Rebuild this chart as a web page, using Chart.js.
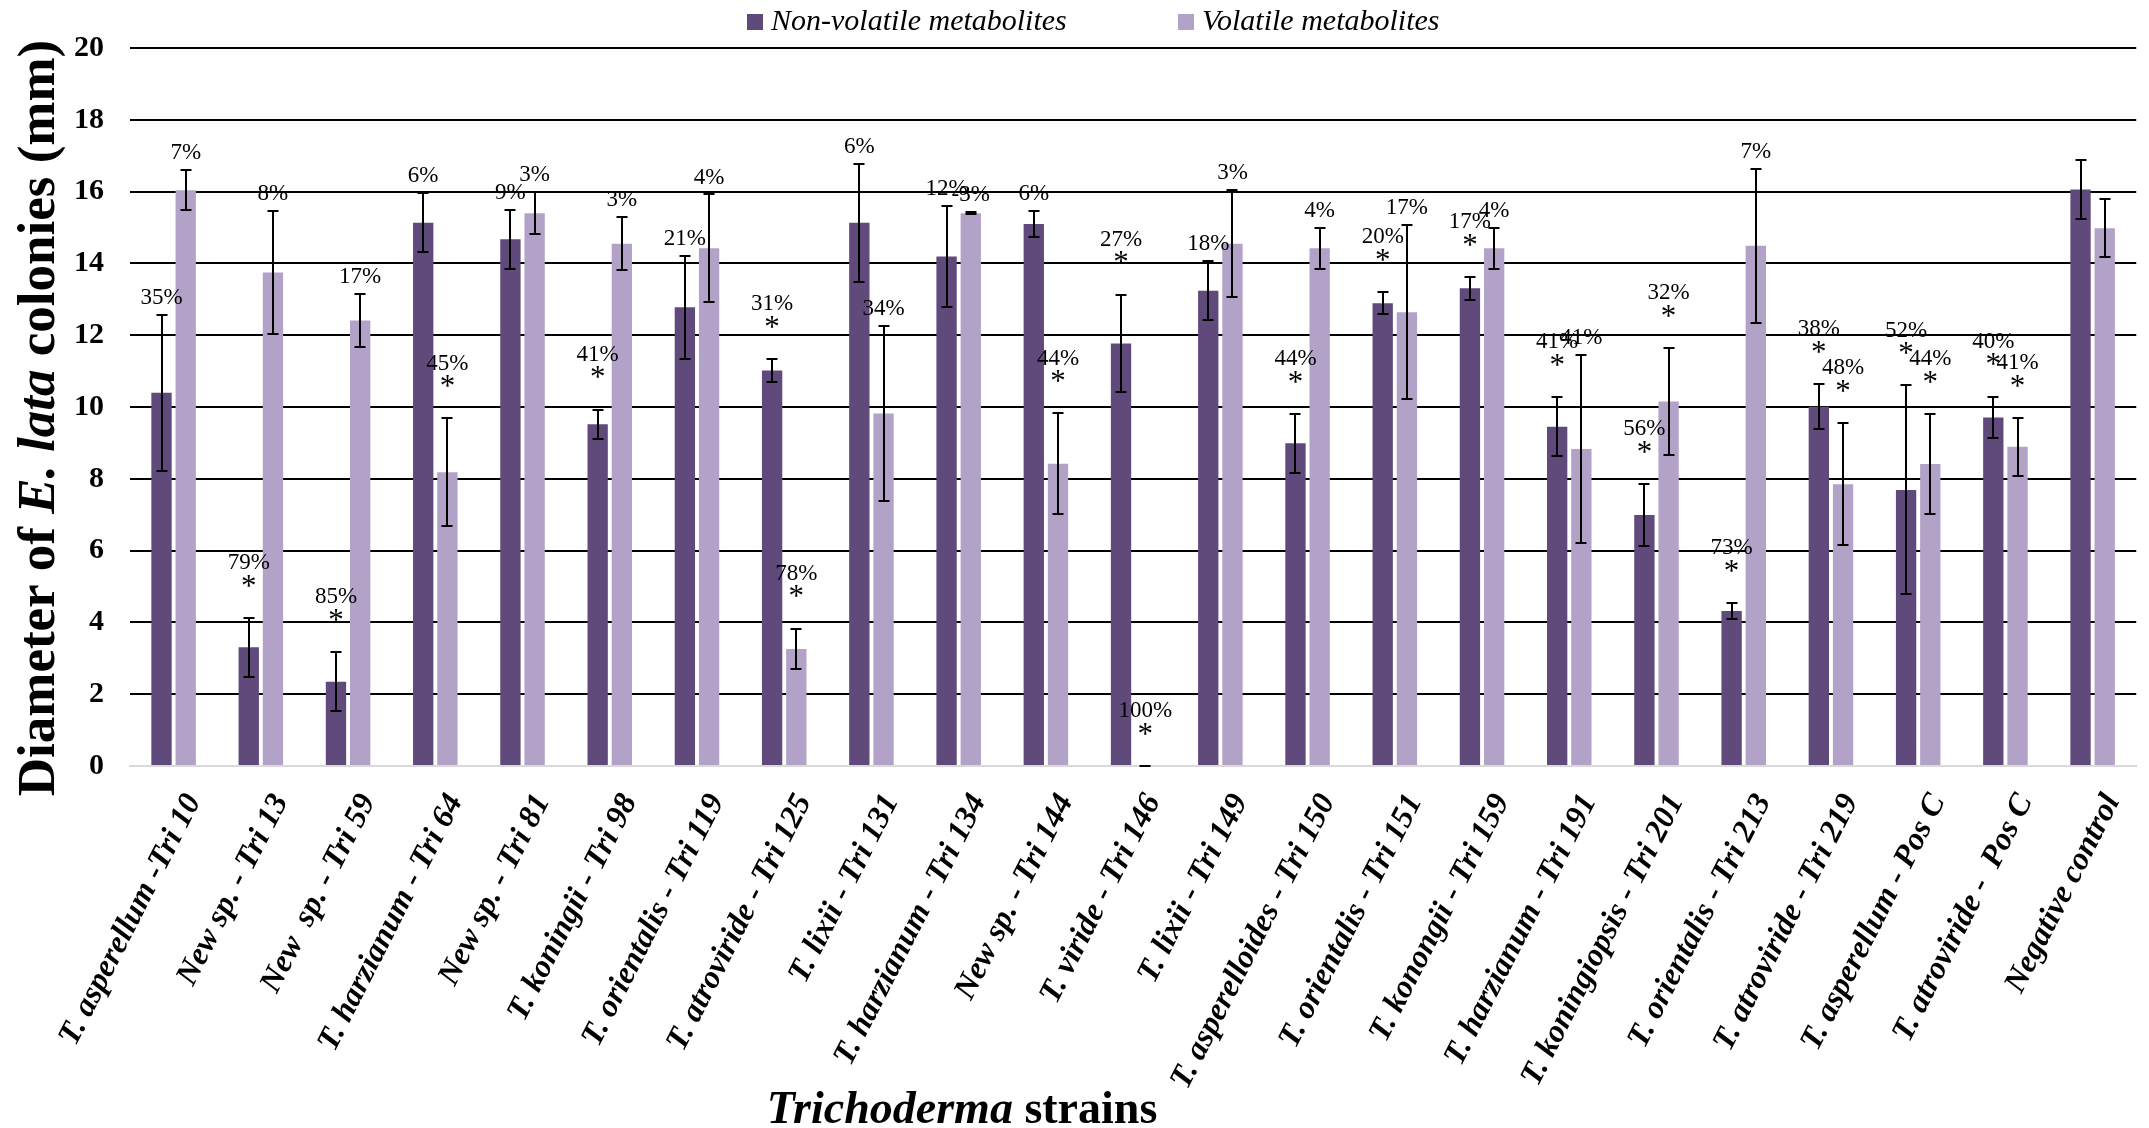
<!DOCTYPE html>
<html>
<head>
<meta charset="utf-8">
<title>Trichoderma metabolites vs E. lata</title>
<script src="https://cdn.jsdelivr.net/npm/chart.js@4.4.1/dist/chart.umd.min.js"></script>
<style>
  html, body { margin: 0; padding: 0; background: #ffffff; }
  #wrap { width: 2149px; height: 1128px; }
</style>
</head>
<body>
<div id="wrap"><canvas id="chart" width="2149" height="1128"></canvas></div>
<script>
// Strain names on the category axis
const strains = [
  'T. asperellum -Tri 10', 'New sp. - Tri 13', 'New  sp. - Tri 59', 'T. harzianum - Tri 64',
  'New sp. - Tri 81', 'T. koningii - Tri 98', 'T. orientalis - Tri 119', 'T. atroviride - Tri 125',
  'T. lixii - Tri 131', 'T. harzianum - Tri 134', 'New sp. - Tri 144', 'T. viride - Tri 146',
  'T. lixii - Tri 149', 'T. asperelloides - Tri 150', 'T. orientalis - Tri 151', 'T. konongii - Tri 159',
  'T. harzianum - Tri 191', 'T. koningiopsis - Tri 201', 'T. orientalis - Tri 213', 'T. atroviride - Tri 219',
  'T. asperellum - Pos C', 'T. atroviride -  Pos C', 'Negative control'
];

// Colony diameter (mm), mean and standard deviation
const nonVolatile   = [10.40, 3.31, 2.35, 15.13, 14.67, 9.52, 12.78, 11.02, 15.13, 14.19, 15.10, 11.77, 13.24, 8.99, 12.89, 13.31, 9.45, 6.99, 4.32, 10.01, 7.69, 9.71, 16.06];
const nonVolatileSD = [2.17, 0.82, 0.83, 0.82, 0.82, 0.41, 1.43, 0.32, 1.65, 1.41, 0.37, 1.36, 0.82, 0.82, 0.31, 0.32, 0.82, 0.87, 0.23, 0.63, 2.91, 0.58, 0.83];
const volatile      = [16.04, 13.75, 12.41, 8.18, 15.40, 14.55, 14.42, 3.26, 9.82, 15.40, 8.42, 0.00, 14.55, 14.42, 12.64, 14.42, 8.83, 10.15, 14.49, 7.85, 8.41, 8.89, 14.98];
const volatileSD    = [0.56, 1.71, 0.75, 1.50, 0.58, 0.74, 1.50, 0.57, 2.43, 0.03, 1.40, 0.00, 1.49, 0.57, 2.43, 0.57, 2.61, 1.50, 2.15, 1.70, 1.40, 0.81, 0.81];

// Inhibition percentages and significance flags
const nonVolatilePct  = ['35%', '79%', '85%', '6%', '9%', '41%', '21%', '31%', '6%', '12%', '6%', '27%', '18%', '44%', '20%', '17%', '41%', '56%', '73%', '38%', '52%', '40%', ''];
const nonVolatileStar = [false, true, true, false, false, true, false, true, false, false, false, true, false, true, true, true, true, true, true, true, true, true, false];
const volatilePct     = ['7%', '8%', '17%', '45%', '3%', '3%', '4%', '78%', '34%', '-3%', '44%', '100%', '3%', '4%', '17%', '4%', '41%', '32%', '7%', '48%', '44%', '41%', ''];
const volatileStar    = [false, false, false, true, false, false, false, true, false, false, true, true, false, false, false, false, false, true, false, true, true, true, false];

// Y axis ticks
const yMin = 0, yMax = 20, yStep = 2;

const SERIF = '"Liberation Serif", "Times New Roman", serif';
const DARK = '#604A7B';
const LIGHT = '#B3A2C7';

const errors = [nonVolatileSD, volatileSD];
const pctLabels = [nonVolatilePct, volatilePct];
const stars = [nonVolatileStar, volatileStar];

// Whisker bars for every column
const errorBars = {
  id: 'errorBars',
  afterDatasetsDraw(chart) {
    const { ctx, scales: { y } } = chart;
    ctx.save();
    ctx.strokeStyle = '#000000';
    ctx.lineWidth = 2;
    chart.data.datasets.forEach((ds, di) => {
      chart.getDatasetMeta(di).data.forEach((bar, i) => {
        const v = ds.data[i], e = errors[di][i];
        const yT = Math.round(y.getPixelForValue(v + e));
        const yB = Math.round(y.getPixelForValue(Math.max(0, v - e)));
        const x = Math.round(bar.x);
        const cap = 5.5;
        ctx.beginPath();
        ctx.moveTo(x, yT); ctx.lineTo(x, yB);
        ctx.moveTo(x - cap, yT); ctx.lineTo(x + cap, yT);
        ctx.moveTo(x - cap, yB); ctx.lineTo(x + cap, yB);
        ctx.stroke();
      });
    });
    ctx.restore();
  }
};

// Percentage labels and asterisks above the whiskers
const inhibitionLabels = {
  id: 'inhibitionLabels',
  afterDatasetsDraw(chart) {
    const { ctx, scales: { y } } = chart;
    ctx.save();
    ctx.fillStyle = '#000000';
    ctx.textAlign = 'center';
    chart.data.datasets.forEach((ds, di) => {
      chart.getDatasetMeta(di).data.forEach((bar, i) => {
        const text = pctLabels[di][i];
        if (!text) return;
        const top = y.getPixelForValue(ds.data[i] + errors[di][i]);
        let labelY = top - 17;
        if (stars[di][i]) {
          ctx.font = '31px ' + SERIF;
          const m = ctx.measureText('*');
          const cy = top - 29;
          ctx.textBaseline = 'alphabetic';
          ctx.fillText('*', bar.x, cy + (m.actualBoundingBoxAscent - m.actualBoundingBoxDescent) / 2);
          labelY = top - 55;
        }
        ctx.font = '23px ' + SERIF;
        ctx.textBaseline = 'middle';
        ctx.fillText(text, bar.x, labelY);
      });
    });
    ctx.restore();
  }
};

// Series key across the top
const seriesKey = {
  id: 'seriesKey',
  afterDraw(chart) {
    const { ctx } = chart;
    const items = [
      { x: 747, color: DARK, label: chart.data.datasets[0].label },
      { x: 1178, color: LIGHT, label: chart.data.datasets[1].label }
    ];
    ctx.save();
    ctx.font = 'italic 30px ' + SERIF;
    ctx.textBaseline = 'alphabetic';
    ctx.textAlign = 'left';
    items.forEach(it => {
      ctx.fillStyle = it.color;
      ctx.fillRect(it.x, 14, 16, 16);
      ctx.fillStyle = '#000000';
      ctx.fillText(it.label, it.x + 24, 30);
    });
    ctx.restore();
  }
};

function drawRuns(ctx, runs, x, y) {
  const widths = runs.map(r => { ctx.font = r.font; return ctx.measureText(r.text).width; });
  const total = widths.reduce((a, b) => a + b, 0);
  let cx = x - total / 2;
  runs.forEach((r, k) => { ctx.font = r.font; ctx.fillText(r.text, cx, y); cx += widths[k]; });
}

// Axis titles with italic taxon names
const axisTitles = {
  id: 'axisTitles',
  afterDraw(chart) {
    const { ctx, chartArea } = chart;
    ctx.save();
    ctx.fillStyle = '#000000';
    ctx.textAlign = 'left';
    ctx.textBaseline = 'alphabetic';
    ctx.translate(54, 418);
    ctx.rotate(-Math.PI / 2);
    drawRuns(ctx, [
      { text: 'Diameter of ', font: 'bold 53px ' + SERIF },
      { text: 'E. lata', font: 'italic bold 53px ' + SERIF },
      { text: ' colonies (mm)', font: 'bold 53px ' + SERIF }
    ], 0, 0);
    ctx.restore();
    ctx.save();
    ctx.fillStyle = '#000000';
    ctx.textAlign = 'left';
    ctx.textBaseline = 'alphabetic';
    drawRuns(ctx, [
      { text: 'Trichoderma', font: 'italic bold 46px ' + SERIF },
      { text: ' strains', font: 'bold 46px ' + SERIF }
    ], 962, 1123);
    ctx.restore();
  }
};

new Chart(document.getElementById('chart'), {
  type: 'bar',
  data: {
    labels: strains,
    datasets: [
      { label: 'Non-volatile metabolites', data: nonVolatile, backgroundColor: DARK, borderWidth: 0 },
      { label: 'Volatile metabolites', data: volatile, backgroundColor: LIGHT, borderWidth: 0 }
    ]
  },
  options: {
    responsive: false,
    animation: false,
    devicePixelRatio: 1,
    layout: { padding: { top: 48, right: 7, left: 0, bottom: 0 } },
    datasets: { bar: { categoryPercentage: 0.555, barPercentage: 0.84 } },
    plugins: { legend: { display: false }, tooltip: { enabled: false } },
    scales: {
      x: {
        grid: { display: false, drawTicks: false },
        border: { display: true, color: '#D9D9D9', width: 2 },
        ticks: {
          autoSkip: false,
          minRotation: 63,
          maxRotation: 63,
          padding: 22,
          labelOffset: 20,
          color: '#000000',
          font: { family: SERIF, size: 32, style: 'italic', weight: 'bold' }
        },
        afterFit(scale) { scale.height = 362; }
      },
      y: {
        min: yMin,
        max: yMax,
        border: { display: false },
        grid: {
          drawTicks: false,
          lineWidth: 2,
          color: c => (c.tick && c.tick.value === 0) ? '#D9D9D9' : '#000000'
        },
        ticks: {
          stepSize: yStep,
          padding: 26,
          color: '#000000',
          font: { family: SERIF, size: 30, weight: 'bold' }
        },
        afterFit(scale) { scale.width = 130; }
      }
    }
  },
  plugins: [errorBars, inhibitionLabels, seriesKey, axisTitles]
});
</script>
</body>
</html>
